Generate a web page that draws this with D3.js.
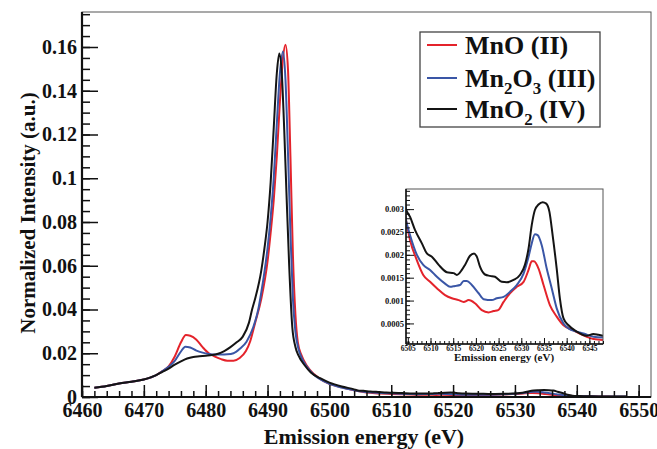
<!DOCTYPE html>
<html>
<head>
<meta charset="utf-8">
<script src="https://cdn.jsdelivr.net/npm/d3@7"></script>
<style>
  html, body { margin: 0; padding: 0; background: #fff; }
  svg text { font-family: "Liberation Serif", "Times New Roman", serif; font-weight: bold; fill: #111; }
</style>
</head>
<body>
<div id="chart"></div>
<script>
// series names, colours
const seriesNames = ["MnO (II)", "Mn2O3 (III)", "MnO2 (IV)"];
const seriesColors = ["#e4232b", "#3a56a6", "#141414"];

// MnO (II)
const mnoE = [6462, 6464, 6466, 6468, 6470, 6472, 6473, 6474, 6475, 6476, 6476.8, 6477.5, 6478.5, 6479.5, 6480.5, 6481.5, 6482.5, 6483.5, 6484.5, 6485.5, 6486.5, 6487.2, 6488, 6489, 6490, 6490.5, 6491, 6491.5, 6492, 6492.5, 6492.9, 6493.3, 6493.7, 6494.1, 6494.5, 6494.9, 6495.5, 6496.3, 6497.5, 6498.5, 6500, 6502, 6504,
  6504.6, 6505.5, 6507.0, 6508.4, 6509.9, 6511.4, 6513.2, 6514.7, 6516.2, 6517.3, 6518.4, 6519.8, 6521.3, 6522.8, 6523.9, 6524.9, 6526.1, 6527.5, 6529.0, 6530.5, 6531.6, 6532.3, 6532.8, 6533.8, 6534.9, 6536.3, 6537.8, 6539.3, 6541.5, 6543.7, 6545.9, 6548];
const mnoI = [0.0042, 0.0050, 0.0062, 0.0070, 0.0080, 0.0100, 0.0118, 0.0140, 0.0185, 0.0250, 0.0283, 0.0280, 0.0262, 0.0228, 0.0200, 0.0185, 0.0173, 0.0166, 0.0166, 0.0178, 0.0210, 0.0255, 0.034, 0.045, 0.062, 0.075, 0.090, 0.110, 0.135, 0.155, 0.161, 0.150, 0.110, 0.065, 0.038, 0.025, 0.019, 0.0145, 0.0105, 0.0083, 0.0060, 0.0044, 0.0031,
  0.00276, 0.00232, 0.00188, 0.00156, 0.00141, 0.00127, 0.00112, 0.00105, 0.00101, 0.00097, 0.00101, 0.00094, 0.00079, 0.00074, 0.00077, 0.00079, 0.00097, 0.00116, 0.0013, 0.00141, 0.00167, 0.00186, 0.00186, 0.0017, 0.00134, 0.0009, 0.00065, 0.00046, 0.00035, 0.00024, 0.00016, 0.00014];

// Mn2O3 (III)
const mn2o3E = [6462, 6464, 6466, 6468, 6470, 6472, 6473, 6474, 6475, 6476, 6476.7, 6477.5, 6478.5, 6479.5, 6480.5, 6481.5, 6482.5, 6483.5, 6484.5, 6485.5, 6486.6, 6487.7, 6488.5, 6489, 6490, 6490.5, 6491, 6491.5, 6492, 6492.5, 6492.9, 6493.3, 6493.7, 6494.1, 6494.5, 6495, 6495.5, 6496.3, 6497.5, 6498.5, 6500, 6502, 6504,
  6504.6, 6505.5, 6507.0, 6508.4, 6509.9, 6511.4, 6513.2, 6514.3, 6515.4, 6516.5, 6517.3, 6518.0, 6519.1, 6520.6, 6521.7, 6523.5, 6524.6, 6526.1, 6527.5, 6529.0, 6530.5, 6531.6, 6532.3, 6533.0, 6533.6, 6534.5, 6535.6, 6536.7, 6537.8, 6539.3, 6540.4, 6542.2, 6543.7, 6545.9, 6548];
const mn2o3I = [0.0042, 0.0050, 0.0062, 0.0070, 0.0080, 0.0100, 0.0118, 0.0138, 0.0165, 0.0208, 0.0230, 0.0226, 0.0212, 0.0203, 0.0197, 0.0194, 0.0194, 0.0195, 0.0200, 0.0220, 0.0253, 0.0320, 0.040, 0.048, 0.068, 0.082, 0.100, 0.125, 0.148, 0.158, 0.145, 0.112, 0.075, 0.045, 0.030, 0.022, 0.018, 0.014, 0.0102, 0.0081, 0.0060, 0.0043, 0.0031,
  0.00276, 0.00243, 0.0020, 0.00178, 0.00167, 0.00152, 0.00137, 0.0013, 0.00132, 0.00134, 0.00143, 0.00143, 0.00134, 0.00116, 0.00103, 0.00101, 0.00105, 0.00108, 0.00119, 0.00134, 0.00159, 0.00196, 0.00225, 0.00245, 0.00243, 0.00221, 0.0017, 0.00127, 0.00083, 0.0005, 0.00039, 0.00032, 0.00028, 0.00021, 0.00019];

// MnO2 (IV)
const mno2E = [6462, 6464, 6466, 6468, 6470, 6472, 6473, 6474, 6475, 6476, 6477, 6478, 6479, 6480, 6481, 6482, 6483, 6484, 6485, 6486, 6487, 6487.5, 6488, 6489, 6489.5, 6490, 6490.5, 6491, 6491.5, 6491.9, 6492.3, 6492.7, 6493.1, 6493.5, 6494, 6494.5, 6495, 6496, 6497, 6498.5, 6500, 6502, 6504,
  6504.6, 6505.5, 6506.6, 6508.1, 6509.2, 6510.3, 6511.8, 6513.6, 6515.1, 6515.8, 6516.9, 6517.6, 6518.7, 6519.6, 6520.2, 6520.9, 6522.0, 6523.1, 6524.2, 6525.7, 6526.8, 6528.3, 6529.7, 6530.8, 6531.6, 6532.3, 6533.0, 6533.8, 6534.7, 6535.5, 6536.2, 6536.9, 6537.8, 6538.5, 6539.3, 6540.4, 6542.2, 6544.4, 6545.9, 6547.0, 6548];
const mno2I = [0.0042, 0.0050, 0.0062, 0.0070, 0.0080, 0.0100, 0.0115, 0.0130, 0.0148, 0.0163, 0.0176, 0.0183, 0.0186, 0.0189, 0.0192, 0.0198, 0.0210, 0.0228, 0.0250, 0.0276, 0.0340, 0.0400, 0.045, 0.058, 0.068, 0.080, 0.098, 0.123, 0.148, 0.157, 0.148, 0.122, 0.090, 0.060, 0.032, 0.023, 0.019, 0.0145, 0.0112, 0.0086, 0.0066, 0.0048, 0.0035,
  0.0030, 0.00283, 0.00254, 0.00225, 0.00203, 0.00196, 0.00178, 0.00162, 0.0016, 0.00156, 0.00167, 0.00178, 0.00198, 0.00203, 0.00196, 0.00174, 0.00157, 0.00154, 0.00152, 0.00141, 0.0014, 0.00145, 0.00156, 0.00178, 0.00214, 0.00265, 0.00298, 0.0031, 0.00315, 0.00312, 0.00294, 0.00243, 0.0017, 0.00105, 0.00061, 0.00046, 0.00032, 0.00023, 0.00027, 0.00025, 0.00023];

// axis ticks
const xTicks = [6460, 6470, 6480, 6490, 6500, 6510, 6520, 6530, 6540, 6550];
const yTicks = [0, 0.02, 0.04, 0.06, 0.08, 0.1, 0.12, 0.14, 0.16];
const insetXTicks = [6505, 6510, 6515, 6520, 6525, 6530, 6535, 6540, 6545];
const insetYTicks = [0.0005, 0.001, 0.0015, 0.002, 0.0025, 0.003];

const series = [
  { name: seriesNames[0], color: seriesColors[0], e: mnoE, v: mnoI },
  { name: seriesNames[1], color: seriesColors[1], e: mn2o3E, v: mn2o3I },
  { name: seriesNames[2], color: seriesColors[2], e: mno2E, v: mno2I },
].map((s) => ({ ...s, pts: s.e.map((e, i) => [e, s.v[i]]) }));

const config = {
  width: 657, height: 449,
  frame: { left: 82, right: 651, top: 12, bottom: 397 },
  inset: { left: 406, right: 603, top: 189, bottom: 344 },
};
const serif = "Liberation Serif, Times New Roman, serif";

const svg = d3.select("#chart").append("svg")
  .attr("width", config.width).attr("height", config.height)
  .attr("font-family", serif);

function drawFrame(g, x, y, f, opt) {
  // ROOT style: ticks point inward, thin top/right edges
  g.append("rect").attr("x", f.left).attr("y", f.top)
    .attr("width", f.right - f.left).attr("height", f.bottom - f.top)
    .attr("fill", "none").attr("stroke", "#555").attr("stroke-width", 1);

  const xMinor = d3.range(opt.xMinor[0], opt.xMinor[1] + 1e-9, opt.xMinor[2]);
  const yMinor = d3.range(opt.yMinor[0], opt.yMinor[1] + 1e-9, opt.yMinor[2]);

  g.append("g").attr("transform", `translate(0,${f.bottom})`)
    .call(d3.axisBottom(x).tickValues(xMinor).tickSize(-opt.xMinorLen).tickFormat(""))
    .call((a) => a.select(".domain").remove());
  g.append("g").attr("transform", `translate(${f.left},0)`)
    .call(d3.axisLeft(y).tickValues(yMinor).tickSize(-opt.yMinorLen).tickFormat(""))
    .call((a) => a.select(".domain").remove());

  const xa = g.append("g").attr("transform", `translate(0,${f.bottom})`)
    .call(d3.axisBottom(x).tickValues(opt.xTicks).tickSize(-opt.xMajorLen)
      .tickPadding(opt.xPad).tickFormat(d3.format("d")));
  xa.select(".domain").remove();
  xa.attr("font-family", serif).attr("font-size", opt.xFont);

  const ya = g.append("g").attr("transform", `translate(${f.left},0)`)
    .call(d3.axisLeft(y).tickValues(opt.yTicks).tickSize(-opt.yMajorLen)
      .tickPadding(opt.yPad).tickFormat(opt.yFormat));
  ya.select(".domain").remove();
  ya.attr("font-family", serif).attr("font-size", opt.yFont);

  g.selectAll(".tick line").attr("stroke", "#111").attr("stroke-width", opt.tickW);

  // heavy left and bottom axis lines
  g.append("line").attr("x1", f.left).attr("x2", f.right).attr("y1", f.bottom).attr("y2", f.bottom)
    .attr("stroke", "#111").attr("stroke-width", opt.axisW);
  g.append("line").attr("x1", f.left).attr("x2", f.left).attr("y1", f.top).attr("y2", f.bottom)
    .attr("stroke", "#111").attr("stroke-width", opt.axisW);
}

const fmtY = (d) => (d === 0 ? "0" : String(+d.toFixed(4)));

// ---------- main plot ----------
const f = config.frame;
const x = d3.scaleLinear().domain([6460, 6552]).range([f.left, f.right]);
const y = d3.scaleLinear().domain([0, 0.176]).range([f.bottom, f.top]);

const main = svg.append("g");
svg.append("clipPath").attr("id", "clipMain").append("rect")
  .attr("x", f.left).attr("y", f.top)
  .attr("width", f.right - f.left).attr("height", f.bottom - f.top);

const line = d3.line().x((d) => x(d[0])).y((d) => y(d[1])).curve(d3.curveMonotoneX);
main.append("g").attr("clip-path", "url(#clipMain)")
  .selectAll("path").data(series).join("path")
  .attr("d", (d) => line(d.pts))
  .attr("fill", "none").attr("stroke", (d) => d.color).attr("stroke-width", 2);

drawFrame(main, x, y, f, {
  xTicks: xTicks, yTicks: yTicks,
  xMinor: [6460, 6550, 2], yMinor: [0, 0.175, 0.005],
  xMajorLen: 12, xMinorLen: 6, yMajorLen: 16, yMinorLen: 8,
  xPad: 6, yPad: 5, xFont: 20, yFont: 20, tickW: 1.5, axisW: 2.2, yFormat: fmtY,
});

svg.append("text").attr("x", 364).attr("y", 444).attr("text-anchor", "middle")
  .attr("font-size", 22).text("Emission energy (eV)");
svg.append("text").attr("transform", "translate(35,213) rotate(-90)")
  .attr("text-anchor", "middle").attr("font-size", 21).text("Normalized Intensity (a.u.)");

// ---------- legend ----------
const leg = svg.append("g");
leg.append("rect").attr("x", 420).attr("y", 32).attr("width", 180).attr("height", 95)
  .attr("fill", "#fff").attr("stroke", "#444").attr("stroke-width", 1.3);
const legRows = [45, 78, 109];
series.forEach((s, i) => {
  leg.append("line").attr("x1", 427).attr("x2", 457).attr("y1", legRows[i]).attr("y2", legRows[i])
    .attr("stroke", s.color).attr("stroke-width", 2);
});
const legText = leg.append("g").attr("font-size", 26);
legText.append("text").attr("x", 465).attr("y", legRows[0] + 9).text("MnO (II)");
const t2 = legText.append("text").attr("x", 465).attr("y", legRows[1] + 9);
t2.append("tspan").text("Mn");
t2.append("tspan").attr("font-size", 17).attr("dy", 7).text("2");
t2.append("tspan").attr("dy", -7).text("O");
t2.append("tspan").attr("font-size", 17).attr("dy", 7).text("3");
t2.append("tspan").attr("dy", -7).text(" (III)");
const t3 = legText.append("text").attr("x", 465).attr("y", legRows[2] + 9);
t3.append("tspan").text("MnO");
t3.append("tspan").attr("font-size", 17).attr("dy", 7).text("2");
t3.append("tspan").attr("dy", -7).text(" (IV)");

// ---------- inset ----------
const fi = config.inset;
const xi = d3.scaleLinear().domain([6504.6, 6548]).range([fi.left, fi.right]);
const yi = d3.scaleLinear().domain([0.00005, 0.00344]).range([fi.bottom, fi.top]);

const inset = svg.append("g");
inset.append("rect").attr("x", fi.left - 46).attr("y", fi.top - 6)
  .attr("width", fi.right - fi.left + 52).attr("height", fi.bottom - fi.top + 26).attr("fill", "#fff");
svg.append("clipPath").attr("id", "clipInset").append("rect")
  .attr("x", fi.left).attr("y", fi.top).attr("width", fi.right - fi.left).attr("height", fi.bottom - fi.top);

const lineI = d3.line().x((d) => xi(d[0])).y((d) => yi(d[1])).curve(d3.curveMonotoneX);
inset.append("g").attr("clip-path", "url(#clipInset)")
  .selectAll("path").data(series).join("path")
  .attr("d", (d) => lineI(d.pts.filter((p) => p[0] >= 6502)))
  .attr("fill", "none").attr("stroke", (d) => d.color).attr("stroke-width", 2);

drawFrame(inset, xi, yi, fi, {
  xTicks: insetXTicks, yTicks: insetYTicks,
  xMinor: [6505, 6548, 1], yMinor: [0.0001, 0.0034, 0.0001],
  xMajorLen: 6, xMinorLen: 3, yMajorLen: 8, yMinorLen: 4,
  xPad: 2, yPad: 2, xFont: 7.5, yFont: 8.5, tickW: 1, axisW: 1.5, yFormat: fmtY,
});

inset.append("text").attr("x", 504).attr("y", 361).attr("text-anchor", "middle")
  .attr("font-size", 11).text("Emission energy (eV)");
</script>
</body>
</html>
